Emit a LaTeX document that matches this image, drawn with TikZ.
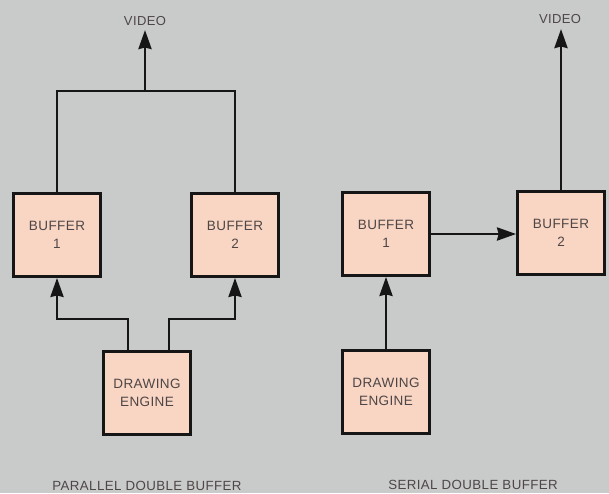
\documentclass[tikz,border=0pt]{standalone}
\usepackage{fontspec}
\setmainfont{Liberation Sans}
\newfontfamily\boxfont[LetterSpace=3]{Liberation Sans}
\usetikzlibrary{arrows.meta}
\definecolor{bgc}{HTML}{C9CBCA}
\definecolor{boxc}{HTML}{F9D5C3}
\definecolor{txtc}{HTML}{4E4646}
\definecolor{linec}{HTML}{161616}
\begin{document}
\begin{tikzpicture}[x=1pt,y=-1pt,
  blk/.style={draw=linec, fill=boxc, line width=2.8pt, minimum width=87pt, minimum height=83pt,
    inner sep=0pt, align=center, text=txtc, font=\boxfont\fontsize{13.5}{18}\selectfont},
  wire/.style={draw=linec, line width=2.8pt},
  arr/.style={wire, -{Stealth[length=19pt,width=13pt,inset=1.5pt]}},
  lbl/.style={text=txtc, font=\boxfont\fontsize{13}{15}\selectfont, inner sep=0pt},
  caption/.style={text=txtc, font=\boxfont\fontsize{13.3}{15}\selectfont, inner sep=0pt}]
\fill[bgc] (0,0) rectangle (609,493);
\useasboundingbox (0,0) rectangle (609,493);
% Left: parallel double buffer
\node[blk] (L1) at (57,235) {BUFFER\\1};
\node[blk] (L2) at (235,235) {BUFFER\\2};
\node[blk] (LE) at (147,393) {DRAWING\\ENGINE};
\node[lbl] (LV) at (145,21) {VIDEO};
\coordinate (LJ) at (145,91);
\coordinate (LVt) at (145,30);
\draw[wire] (L1.north) |- (LJ);
\draw[wire] (L2.north) |- (LJ);
\draw[arr] (LJ) -- (LVt);
\coordinate (LEa) at (128,351);
\coordinate (LEb) at (169,351);
\draw[arr] (LEa) |- (100,319) -| (L1.south);
\draw[arr] (LEb) |- (200,319) -| (L2.south);
\node[caption] (LC) at (147,486) {PARALLEL DOUBLE BUFFER};
% Right: serial double buffer
\node[blk] (R1) at (386,234) {BUFFER\\1};
\node[blk] (R2) at (561,233) {BUFFER\\2};
\node[blk] (RE) at (386,392) {DRAWING\\ENGINE};
\node[lbl] (RV) at (560,19) {VIDEO};
\coordinate (RVt) at (561,29);
\draw[arr] (RE.north) -- (R1.south);
\draw[arr] (R1.east) -- (R1.east -| R2.west);
\draw[arr] (R2.north) -- (RVt);
\node[caption] (RC) at (473,485) {SERIAL DOUBLE BUFFER};
\end{tikzpicture}
\end{document}
